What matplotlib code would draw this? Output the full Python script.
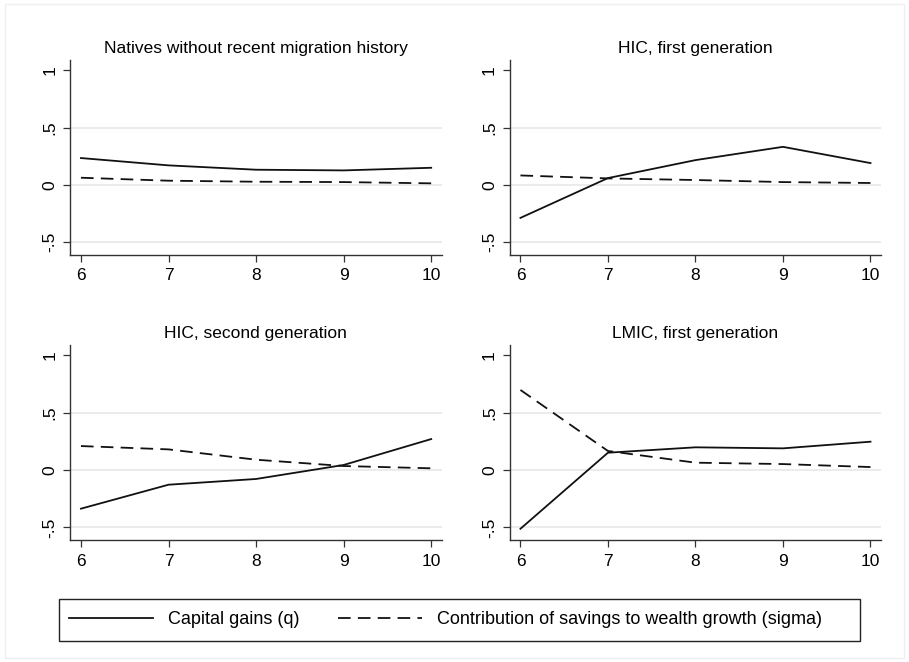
import matplotlib.pyplot as plt
from matplotlib.patches import Rectangle

plt.rcParams['font.family'] = ['Liberation Sans', 'DejaVu Sans']

years = [6, 7, 8, 9, 10]
titles = ["Natives without recent migration history", "HIC, first generation",
          "HIC, second generation", "LMIC, first generation"]

# capital gains (q), one list per panel
q_natives = [0.233, 0.169, 0.131, 0.125, 0.148]
q_hic_first = [-0.290, 0.058, 0.215, 0.331, 0.189]
q_hic_second = [-0.337, -0.128, -0.078, 0.044, 0.270]
q_lmic_first = [-0.512, 0.151, 0.198, 0.189, 0.247]

# contribution of savings (sigma)
s_natives = [0.061, 0.035, 0.026, 0.023, 0.012]
s_hic_first = [0.081, 0.055, 0.041, 0.023, 0.015]
s_hic_second = [0.209, 0.180, 0.090, 0.035, 0.015]
s_lmic_first = [0.698, 0.166, 0.064, 0.052, 0.026]

q_all = [q_natives, q_hic_first, q_hic_second, q_lmic_first]
s_all = [s_natives, s_hic_first, s_hic_second, s_lmic_first]

yticks = [-0.5, 0, 0.5, 1]
ylabels = ["-.5", "0", ".5", "1"]

W, H = 909, 662
fig = plt.figure(figsize=(W / 100, H / 100), dpi=100)

# axes boxes in pixels (left, top, right, bottom)
boxes = [(70, 60, 441.7, 254.5), (509.5, 60, 881, 254.5),
         (70, 345, 441.7, 540), (509.5, 345, 881, 540)]

for i, (l, t, r, b) in enumerate(boxes):
    ax = fig.add_axes([l / W, 1 - b / H, (r - l) / W, (b - t) / H])
    for yv in yticks[:-1]:
        ax.axhline(yv, color='#e6e6e6', lw=1.1, zorder=0)
    ln_q, = ax.plot(years, q_all[i], color='#111111', lw=1.3)
    ln_s, = ax.plot(years, s_all[i], color='#111111', lw=1.3, linestyle=(0, (7, 4)))
    ax.set_xlim(5.875, 10.12)
    ax.set_ylim(-0.61, 1.09)
    ax.set_xticks(years)
    ax.set_yticks(yticks)
    ax.set_yticklabels(ylabels, rotation=90, va='center')
    ax.tick_params(axis='both', labelsize=12.5, length=5, width=0.9, color='#333333')
    ax.tick_params(axis='x', pad=5)
    ax.tick_params(axis='y', pad=4)
    for side in ['top', 'right']:
        ax.spines[side].set_visible(False)
    for side in ['left', 'bottom']:
        ax.spines[side].set_color('#333333')
        ax.spines[side].set_linewidth(1.0)
    ax.set_title(titles[i], fontsize=12.5, pad=5)

# legend contents without frame, frame drawn as its own box
fig.legend([ln_q, ln_s], ["Capital gains (q)", "Contribution of savings to wealth growth (sigma)"],
           loc='center left', bbox_to_anchor=(69 / W, 1 - 620 / H), ncol=2,
           fontsize=13, frameon=False, borderpad=0, borderaxespad=0,
           handlelength=4.65, handletextpad=0.83, columnspacing=2.15)
fig.patches.append(Rectangle((59 / W, 1 - 641 / H), 801 / W, 42 / H, transform=fig.transFigure,
                             fill=False, edgecolor='#222222', lw=1.0))

fig.patches.append(Rectangle((5 / W, 4 / H), 899 / W, 654 / H, transform=fig.transFigure,
                             fill=False, edgecolor='#efefef', lw=1))

fig.savefig("out.png", dpi=100, facecolor='white')
